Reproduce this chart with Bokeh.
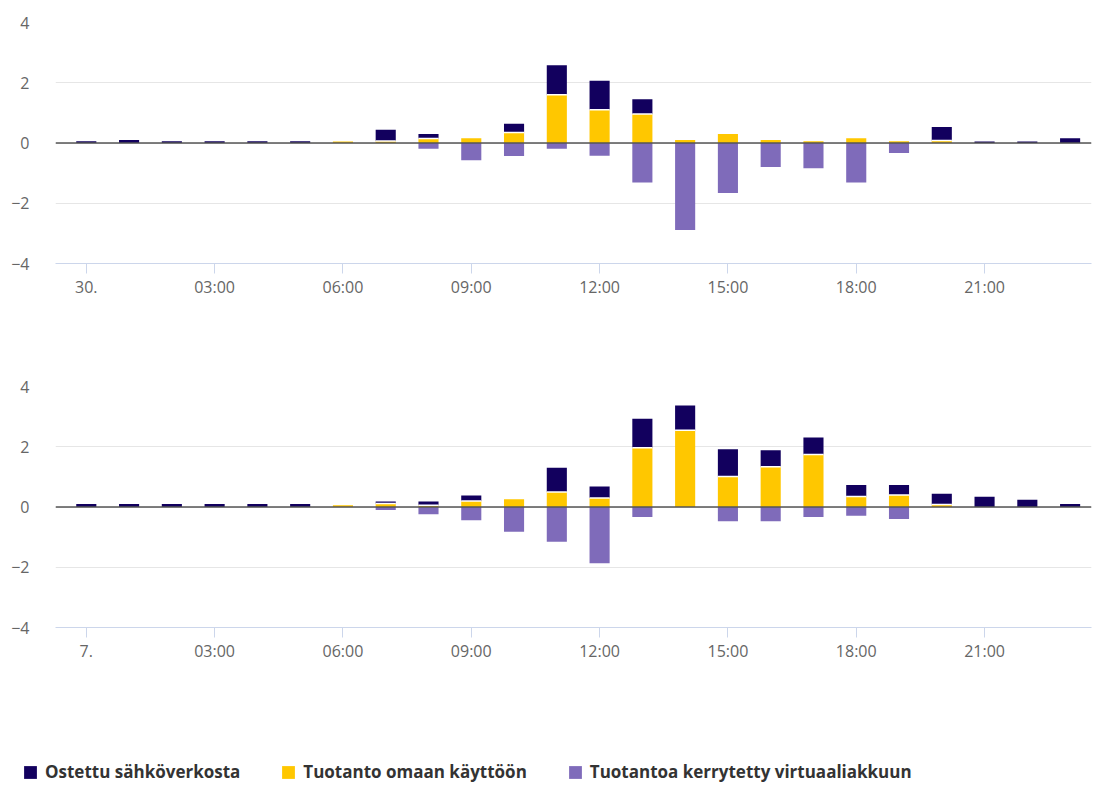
from bokeh.plotting import figure
from bokeh.models import Range1d, FixedTicker, Span, Legend, LegendItem, ColumnDataSource
from bokeh.layouts import column
from bokeh.embed import file_html
from bokeh.resources import INLINE

# ---------------- data ----------------
hours = [0, 1, 2, 3, 4, 5, 6, 7, 8, 9, 10, 11, 12, 13, 14, 15, 16, 17, 18, 19, 20, 21, 22, 23]
tick_hours = [0, 3, 6, 9, 12, 15, 18, 21]
day1_labels = ["30.", "03:00", "06:00", "09:00", "12:00", "15:00", "18:00", "21:00"]
day2_labels = ["7.", "03:00", "06:00", "09:00", "12:00", "15:00", "18:00", "21:00"]

series_names = ["Ostettu sähköverkosta", "Tuotanto omaan käyttöön", "Tuotantoa kerrytetty virtuaaliakkuun"]

day1_bought = [0.06, 0.1, 0.06, 0.06, 0.06, 0.06, 0.0, 0.37, 0.15, 0.0, 0.29, 0.98,
               0.97, 0.49, 0.0, 0.0, 0.0, 0.0, 0.0, 0.0, 0.45, 0.05, 0.05, 0.16]
day1_own = [0.0, 0.0, 0.0, 0.0, 0.0, 0.0, 0.05, 0.07, 0.15, 0.16, 0.35, 1.6,
            1.1, 0.96, 0.1, 0.3, 0.1, 0.06, 0.16, 0.06, 0.08, 0.0, 0.0, 0.0]
day1_stored = [0.0, 0.0, 0.0, 0.0, 0.0, 0.0, 0.0, 0.0, -0.19, -0.57, -0.43, -0.19,
               -0.42, -1.31, -2.89, -1.66, -0.8, -0.84, -1.31, -0.33, 0.0, 0.0, 0.0, 0.0]

day2_bought = [0.1, 0.1, 0.1, 0.1, 0.1, 0.1, 0.0, 0.06, 0.12, 0.18, 0.0, 0.8,
               0.38, 0.96, 0.82, 0.91, 0.54, 0.57, 0.38, 0.33, 0.36, 0.34, 0.24, 0.1]
day2_own = [0.0, 0.0, 0.0, 0.0, 0.0, 0.0, 0.06, 0.12, 0.06, 0.2, 0.26, 0.5,
            0.3, 1.97, 2.55, 1.01, 1.34, 1.74, 0.35, 0.4, 0.08, 0.0, 0.0, 0.0]
day2_stored = [0.0, 0.0, 0.0, 0.0, 0.0, 0.0, 0.0, -0.1, -0.24, -0.44, -0.82, -1.15,
               -1.87, -0.33, 0.0, -0.47, -0.47, -0.33, -0.29, -0.4, 0.0, 0.0, 0.0, 0.0]

NAVY = "#12005e"
YELLOW = "#ffc700"
PURPLE = "#7f6bba"
LABEL_COLOR = "#666666"
FONT = "Open Sans"
BAR_W = 0.47


def make_chart(bought, own, stored, labels):
    src = ColumnDataSource(dict(
        x=hours,
        own=own,
        top=[o + b for o, b in zip(own, bought)],
        stored=stored,
    ))
    # white separator between stacked segments (only where both exist)
    sep_x = [h for h, o, b in zip(hours, own, bought) if o > 0 and b > 0]
    sep_y = [o for o, b in zip(own, bought) if o > 0 and b > 0]
    sep = ColumnDataSource(dict(
        x0=[h - BAR_W / 2 for h in sep_x],
        x1=[h + BAR_W / 2 for h in sep_x],
        y=sep_y,
    ))

    p = figure(frame_width=1036, frame_height=241,
               min_border_left=55, min_border_right=3,
               min_border_top=22, min_border_bottom=101,
               x_range=Range1d(-0.72, 23.5), y_range=Range1d(-4, 4),
               toolbar_location=None, output_backend="svg")
    p.outline_line_color = None
    p.background_fill_color = "white"
    p.border_fill_color = "white"

    p.vbar(x="x", bottom=0, top="own", width=BAR_W, source=src,
           fill_color=YELLOW, line_color=None)
    p.vbar(x="x", bottom="own", top="top", width=BAR_W, source=src,
           fill_color=NAVY, line_color=None)
    p.vbar(x="x", bottom="stored", top=0, width=BAR_W, source=src,
           fill_color=PURPLE, line_color=None)
    p.segment(x0="x0", x1="x1", y0="y", y1="y", source=sep,
              line_color="white", line_width=1.5)

    p.add_layout(Span(location=0, dimension="width", line_color="#555555", line_width=1.5))

    p.xgrid.visible = False
    p.ygrid.grid_line_color = "#e6e6e6"
    p.ygrid.grid_line_width = 1

    p.yaxis.ticker = FixedTicker(ticks=[-4, -2, 0, 2, 4])
    p.yaxis.axis_line_color = None
    p.yaxis.major_tick_line_color = None
    p.yaxis.minor_tick_line_color = None
    p.yaxis.major_label_standoff = 20
    p.yaxis.major_label_text_font = FONT
    p.yaxis.major_label_text_font_size = "16px"
    p.yaxis.major_label_text_color = LABEL_COLOR

    p.xaxis.ticker = FixedTicker(ticks=tick_hours)
    p.xaxis.major_label_overrides = {h: l for h, l in zip(tick_hours, labels)}
    p.xaxis.axis_line_color = "#ccd6eb"
    p.xaxis.major_tick_line_color = "#ccd6eb"
    p.xaxis.major_tick_out = 10
    p.xaxis.major_tick_in = 0
    p.xaxis.minor_tick_line_color = None
    p.xaxis.major_label_standoff = 2
    p.xaxis.major_label_text_font = FONT
    p.xaxis.major_label_text_font_size = "16px"
    p.xaxis.major_label_text_color = LABEL_COLOR
    return p


p1 = make_chart(day1_bought, day1_own, day1_stored, day1_labels)
p2 = make_chart(day2_bought, day2_own, day2_stored, day2_labels)

# legend strip
p3 = figure(frame_width=1094, frame_height=57, min_border=0,
            x_range=Range1d(0, 1), y_range=Range1d(0, 1),
            x_axis_location=None, y_axis_location=None,
            toolbar_location=None, output_backend="svg")
p3.outline_line_color = None
p3.grid.visible = False
p3.background_fill_color = "white"
p3.border_fill_color = "white"
items = []
for name, col in zip(series_names, [NAVY, YELLOW, PURPLE]):
    # zero-size glyph so the legend has a swatch to draw without drawing anything
    r = p3.vbar(x=[0.5], bottom=[0.5], top=[0.5], width=0, fill_color=col, line_color=None)
    items.append(LegendItem(label=name, renderers=[r]))
legend = Legend(items=items, location=(22, 2), orientation="horizontal",
                glyph_width=16, glyph_height=16, label_standoff=7, spacing=40,
                padding=0, margin=0, border_line_color=None, background_fill_alpha=0,
                label_text_font=FONT, label_text_font_style="bold",
                label_text_font_size="17px", label_text_color="#333333")
p3.add_layout(legend)

layout = column(p1, p2, p3, spacing=0)
open("out.html", "w").write(file_html(layout, INLINE))
